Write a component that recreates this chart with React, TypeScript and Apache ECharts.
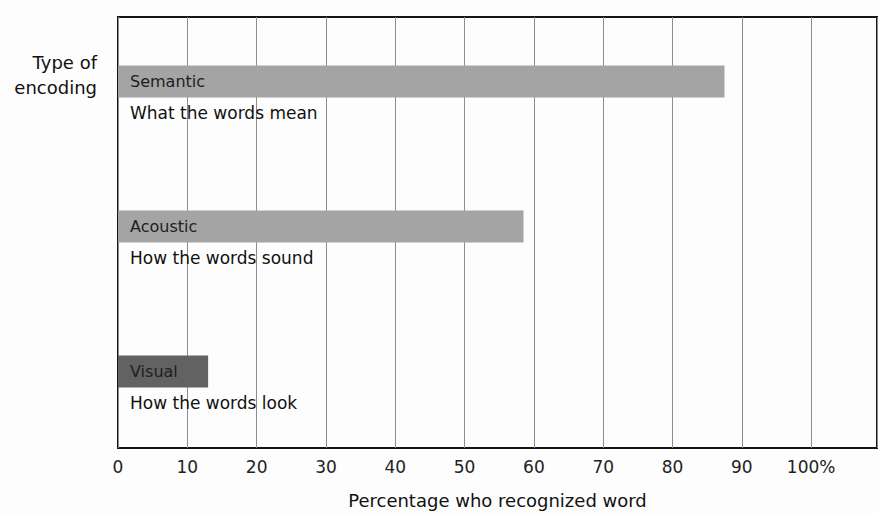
import React, { useEffect, useRef } from "react";
import * as echarts from "echarts";

const categories = ["Semantic", "Acoustic", "Visual"];
const descriptions = ["What the words mean", "How the words sound", "How the words look"];
const values = [87.5, 58.5, 13];
const barColors = ["#a4a4a4", "#a4a4a4", "#626262"];
const tickValues = [0, 10, 20, 30, 40, 50, 60, 70, 80, 90, 100];
const xAxisName = "Percentage who recognized word";
const yAxisTitle = "Type of\nencoding";

const FONT = "'DejaVu Sans', 'Liberation Sans', Arial, sans-serif";

export default function App() {
  const ref = useRef<HTMLDivElement>(null);
  useEffect(() => {
    if (!ref.current) return;
    const chart = echarts.init(ref.current, undefined, { renderer: "svg" });
    const gridLeft = 118;
    const gridWidth = 759;
    chart.setOption({
      animation: false,
      backgroundColor: "#fdfdfd",
      textStyle: { fontFamily: FONT },
      grid: [
        { left: gridLeft, top: 17, width: gridWidth, height: 433, show: true, borderColor: "#151515", borderWidth: 2, backgroundColor: "transparent" },
        { left: gridLeft, top: 9, width: gridWidth, height: 435 },
      ],
      xAxis: [
        {
          gridIndex: 0,
          type: "value",
          min: 0,
          max: 109.5,
          interval: 10,
          axisLine: { show: false },
          axisTick: { show: false },
          splitLine: { show: true, lineStyle: { color: "#8c8c8c", width: 1 } },
          axisLabel: {
            show: true,
            showMaxLabel: false,
            margin: 10,
            fontSize: 17,
            color: "#222",
            fontFamily: FONT,
            formatter: (v: number) => (tickValues.includes(v) ? (v === 100 ? "100%" : String(v)) : ""),
          },
          name: xAxisName,
          nameLocation: "middle",
          nameGap: 43,
          nameTextStyle: { fontSize: 18, color: "#111", fontFamily: FONT },
        },
        { gridIndex: 1, type: "value", min: 0, max: 109.5, show: false },
      ],
      yAxis: [
        { gridIndex: 0, type: "value", show: false, splitLine: { show: false } },
        { gridIndex: 1, type: "category", data: categories, inverse: true, show: false },
      ],
      graphic: [
        {
          type: "text",
          x: 97,
          y: 50,
          style: {
            text: yAxisTitle,
            align: "right",
            verticalAlign: "top",
            font: `18px ${FONT}`,
            lineHeight: 25,
            fill: "#111",
          },
        },
      ],
      series: [
        {
          type: "bar",
          xAxisIndex: 1,
          yAxisIndex: 1,
          barWidth: 32,
          data: values.map((v, i) => ({ value: v, itemStyle: { color: barColors[i] } })),
          label: {
            show: true,
            position: [12, 0],
            align: "left",
            verticalAlign: "top",
            formatter: (p: any) => `{a|${categories[p.dataIndex]}}\n{b|${descriptions[p.dataIndex]}}`,
            rich: {
              a: { fontSize: 16, lineHeight: 32, color: "#1e1e1e", fontFamily: FONT },
              b: { fontSize: 17, lineHeight: 30, color: "#111", fontFamily: FONT },
            },
          },
        },
      ],
    });
    return () => chart.dispose();
  }, []);
  return <div ref={ref} style={{ width: 879, height: 514, position: "absolute", left: 0, top: 0 }} />;
}
